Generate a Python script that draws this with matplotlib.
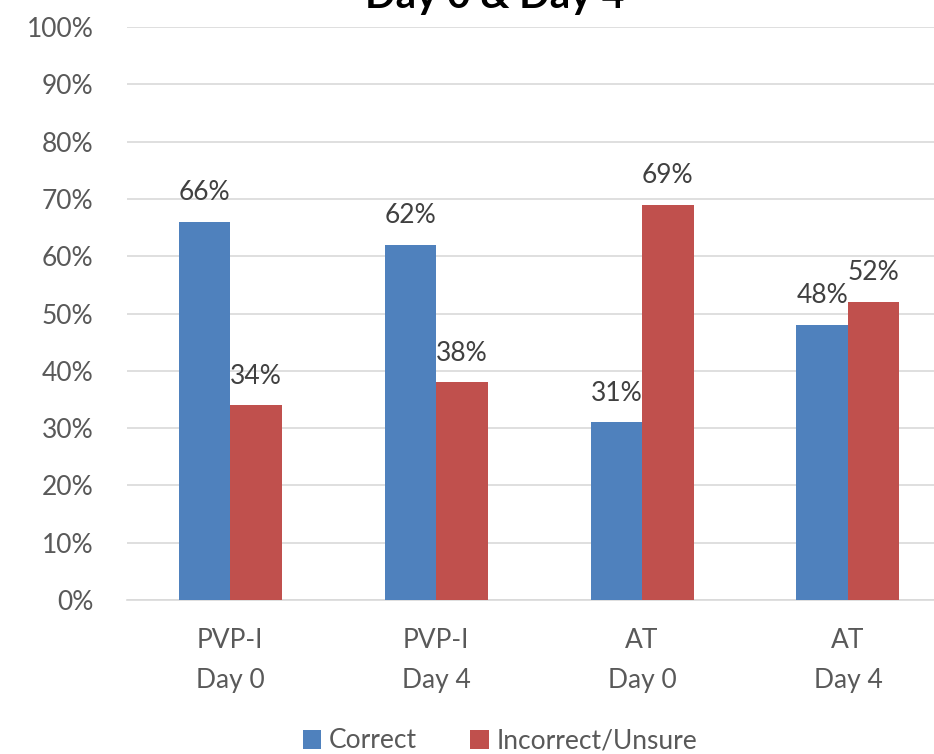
import matplotlib
matplotlib.use("Agg")
import matplotlib.pyplot as plt
import numpy as np

categories = ["PVP-I\nDay 0", "PVP-I\nDay 4", "AT\nDay 0", "AT\nDay 4"]
correct = [66, 62, 31, 48]
incorrect = [34, 38, 69, 52]
series_names = ["Correct", "Incorrect/Unsure"]
title = "Day 0 & Day 4"

plt.rcParams['font.family'] = ['Lato', 'DejaVu Sans']
txt = '#595959'
blue = '#4F81BD'
red = '#C0504D'

W, H = 934, 754
fig = plt.figure(figsize=(W/100, H/100), dpi=100)
left, right = 127/W, 951/W
bottom, top = 1 - 600/H, 1 - 27/H
ax = fig.add_axes([left, bottom, right-left, top-bottom])

x = np.arange(len(categories))
w = 0.25
b1 = ax.bar(x - w/2, correct, w, color=blue, label=series_names[0], zorder=3)
b2 = ax.bar(x + w/2, incorrect, w, color=red, label=series_names[1], zorder=3)
for bars, vals in ((b1, correct), (b2, incorrect)):
    for r, v in zip(bars, vals):
        ax.annotate(f"{v}%", (r.get_x() + r.get_width()/2, v), xytext=(0, 12),
                    textcoords='offset points', ha='center', va='bottom',
                    fontsize=19, color='#404040')

ax.set_xlim(-0.5, len(categories) - 0.5)
ax.set_ylim(0, 100)
ax.set_yticks(range(0, 101, 10))
ax.set_yticklabels([f"{v}%" for v in range(0, 101, 10)], fontsize=19, color=txt)
ax.set_xticks(x)
ax.set_xticklabels(categories, fontsize=19, color=txt, linespacing=1.75)
ax.tick_params(axis='y', length=0, pad=24)
ax.tick_params(axis='x', length=0, pad=20)
ax.yaxis.grid(True, color='#D9D9D9', linewidth=1.2, zorder=0)
for s in ['top', 'right', 'left']:
    ax.spines[s].set_visible(False)
ax.spines['bottom'].set_color('#D9D9D9')
ax.spines['bottom'].set_linewidth(1.2)

fig.text(495/W, 1 - 8/H, title, ha='center', va='baseline', fontsize=29,
         fontweight='bold', color='black')

leg = fig.legend(handles=[b1, b2], labels=series_names, loc='center',
                 bbox_to_anchor=(500/W, 1 - 741/H), ncol=2, frameon=False,
                 fontsize=19, handlelength=0.7, handleheight=0.7,
                 columnspacing=2.0, handletextpad=0.3, labelcolor=txt)

fig.savefig("out.png", dpi=100)
